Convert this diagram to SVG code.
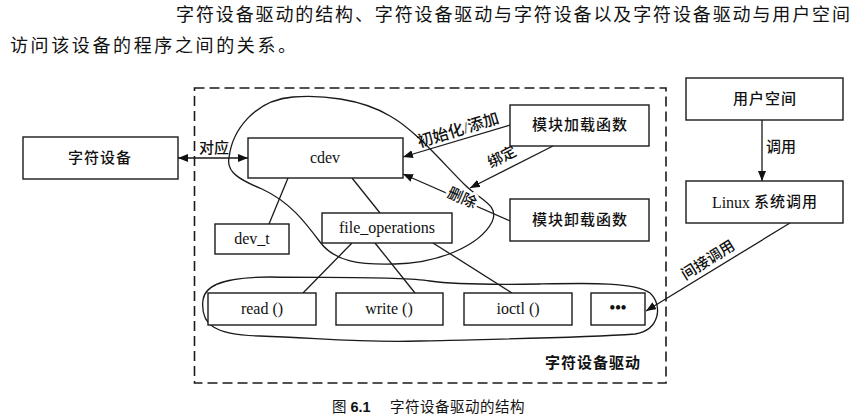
<svg xmlns="http://www.w3.org/2000/svg" width="852" height="419" viewBox="0 0 852 419">
<style>
.bx{fill:#fff;stroke:#1a1a1a;stroke-width:1.4}
.ln{stroke:#1a1a1a;stroke-width:1.3;fill:none}
.blob{fill:none;stroke:#1a1a1a;stroke-width:1.3}
.t{font-family:"Liberation Serif","Noto Sans CJK SC",serif;fill:#111;text-anchor:middle;dominant-baseline:central}
.zh{font-family:"Liberation Serif","Noto Sans CJK SC",sans-serif;font-size:15px;font-weight:500;letter-spacing:1px}
.en{font-size:16px}
.lb{font-family:"Liberation Serif","Noto Sans CJK SC",sans-serif;font-size:15px;font-weight:500;fill:#111;text-anchor:middle;dominant-baseline:central}
.halo{paint-order:stroke;stroke:#fff;stroke-width:5px}
.body{font-family:"Noto Sans CJK SC",sans-serif;font-size:18px;fill:#111}
.cap{font-family:"Liberation Sans","Noto Sans CJK SC",sans-serif;font-size:14.5px;fill:#111;dominant-baseline:central}
</style>
<defs>
<marker id="ah" viewBox="0 0 10 8" refX="10" refY="4" markerWidth="10" markerHeight="8" markerUnits="userSpaceOnUse" orient="auto-start-reverse">
<path d="M0,0 L10,4 L0,8 z" fill="#111"/>
</marker>
</defs>
<rect width="852" height="419" fill="#fff"/>

<g id="intro">
<text class="body" x="176" y="21" textLength="674" lengthAdjust="spacing">字符设备驱动的结构、字符设备驱动与字符设备以及字符设备驱动与用户空间</text>
<text class="body" x="10" y="52" textLength="286" lengthAdjust="spacing">访问该设备的程序之间的关系。</text>
</g>

<g id="driver-frame">
<rect x="194.5" y="88" width="471.5" height="295" fill="none" stroke="#1a1a1a" stroke-width="1.6" stroke-dasharray="10 5"/>
<text class="t zh" x="593" y="363" style="font-weight:600">字符设备驱动</text>
</g>

<g id="blobs">
<path id="cdev-blob" class="blob" d="M293,97 C255,100 232,130 229,158 C226,172 240,180 262,189 C290,202 305,222 320,242 C335,262 360,265 395,264 C440,263 480,245 492,222 C500,205 480,200 465,185 C440,160 415,130 390,116 C360,98 320,95 293,97 Z"/>
<path id="ops-blob" class="blob" d="M203,300 C200,325 215,335 260,336 C320,338 360,343 420,341 C500,339 580,338 635,334 C660,330 663,305 650,293 C635,282 590,283 540,284 C480,285 450,284 430,281 C400,276 330,278 270,277 C230,277 205,283 203,300 Z"/>
</g>

<g id="connectors">
<line class="ln" x1="178" y1="158" x2="248" y2="158" marker-start="url(#ah)" marker-end="url(#ah)"/>
<line class="ln" x1="288" y1="178" x2="269" y2="224"/>
<line class="ln" x1="352" y1="178" x2="380" y2="213"/>
<line class="ln" x1="510" y1="125" x2="403" y2="157" marker-end="url(#ah)"/>
<line class="ln" x1="553" y1="146" x2="470" y2="188" marker-end="url(#ah)"/>
<line class="ln" x1="510" y1="221" x2="403" y2="174" marker-end="url(#ah)"/>
<line class="ln" x1="352" y1="243" x2="303" y2="293"/>
<line class="ln" x1="375" y1="243" x2="415" y2="293"/>
<line class="ln" x1="433" y1="243" x2="512" y2="293"/>
<line class="ln" x1="762" y1="120" x2="762" y2="181" marker-end="url(#ah)"/>
<line class="ln" x1="790" y1="223" x2="646" y2="311" marker-end="url(#ah)"/>
<text class="lb" x="214" y="148">对应</text>
<text class="lb" transform="translate(458,130) rotate(-17)" style="font-size:16px">初始化/添加</text>
<text class="lb" transform="translate(502,157) rotate(-27)">绑定</text>
<text class="lb halo" transform="translate(462,198) rotate(24)">删除</text>
<text class="lb" x="781" y="147">调用</text>
<text class="lb" transform="translate(708,260) rotate(-32)">间接调用</text>
</g>

<g id="char-device">
<rect class="bx" x="23" y="137" width="155" height="42"/>
<text class="t zh" x="100" y="158">字符设备</text>
</g>
<g id="cdev">
<rect class="bx" x="248" y="138" width="155" height="40"/>
<text class="t en" x="325" y="157">cdev</text>
</g>
<g id="dev_t">
<rect class="bx" x="215" y="224" width="74" height="30"/>
<text class="t en" x="252" y="238">dev_t</text>
</g>
<g id="file_operations">
<rect class="bx" x="322" y="213" width="130" height="30"/>
<text class="t en" x="387" y="227">file_operations</text>
</g>
<g id="module-load">
<rect class="bx" x="510" y="105" width="139" height="41"/>
<text class="t zh" x="580" y="125">模块加载函数</text>
</g>
<g id="module-unload">
<rect class="bx" x="510" y="199" width="139" height="42"/>
<text class="t zh" x="580" y="220">模块卸载函数</text>
</g>
<g id="read">
<rect class="bx" x="208" y="293" width="108" height="32"/>
<text class="t en" x="262" y="308">read ()</text>
</g>
<g id="write">
<rect class="bx" x="336" y="293" width="107" height="32"/>
<text class="t en" x="389" y="308">write ()</text>
</g>
<g id="ioctl">
<rect class="bx" x="464" y="293" width="108" height="32"/>
<text class="t en" x="518" y="308">ioctl ()</text>
</g>
<g id="more">
<rect class="bx" x="591" y="293" width="54" height="32"/>
<text class="t en" x="618" y="307" style="font-weight:bold">•••</text>
</g>
<g id="user-space">
<rect class="bx" x="686" y="78" width="157" height="42"/>
<text class="t zh" x="765" y="99">用户空间</text>
</g>
<g id="linux-syscall">
<rect class="bx" x="686" y="181" width="157" height="42"/>
<text class="t zh" x="765" y="202"><tspan style="letter-spacing:0;font-size:16px">Linux </tspan>系统调用</text>
</g>

<g id="caption">
<text class="cap" x="332" y="407">图 <tspan font-weight="bold">6.1</tspan></text>
<text class="cap" x="390" y="407" style="letter-spacing:0.5px">字符设备驱动的结构</text>
</g>
</svg>
